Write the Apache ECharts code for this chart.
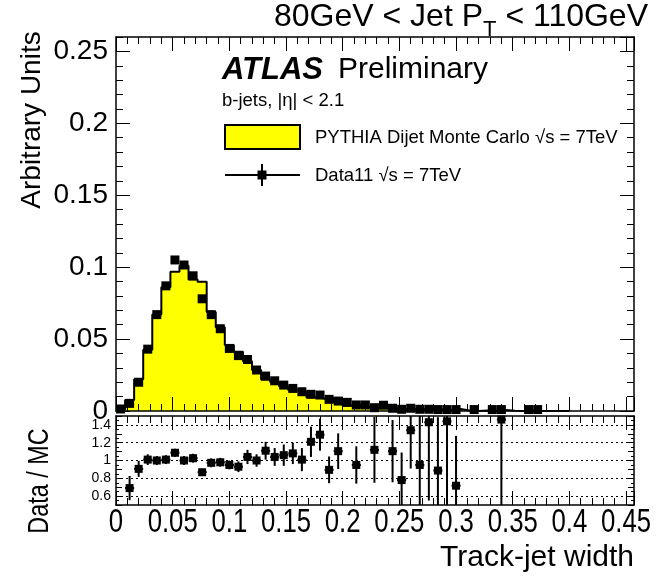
<!DOCTYPE html>
<html>
<head>
<meta charset="utf-8">
<script src="https://cdn.jsdelivr.net/npm/echarts@6/dist/echarts.min.js"></script>
<style>
  html, body { margin: 0; padding: 0; background: #ffffff; }
  #chart { width: 659px; height: 576px; }
</style>
</head>
<body>
<div id="chart"></div>
<script>
// Histogram binning: 50 bins of width 0.008 starting at 0
const binWidth = 0.008;
const binStart = 0;

// PYTHIA dijet MC, normalised, one value per bin
const mcValues = [
  0.0009, 0.0077, 0.0220, 0.0425, 0.0670, 0.0860, 0.0968, 0.1010, 0.0915, 0.0898,
  0.0688, 0.0583, 0.0458, 0.0412, 0.0345, 0.0285, 0.0219, 0.0202, 0.0170, 0.0145,
  0.0133, 0.0096, 0.0086, 0.0090, 0.0062, 0.0038, 0.0044, 0.0026, 0.0021, 0.0022,
  0.0017, 0.0015, 0.0014, 0.0013, 0.0008, 0.0011, 0.0007, 0.0014, 0.0004, 0.0000,
  0.0003, 0.0000, 0.0007, 0.0002, 0.0000, 0.0000, 0.0000, 0.0000, 0.0000, 0.0000
];

// Data11, normalised, one value per bin (null = empty bin)
const dataValues = [
  0.0014, 0.0053, 0.0200, 0.0430, 0.0670, 0.0870, 0.1050, 0.1015, 0.0940, 0.0780,
  0.0670, 0.0572, 0.0435, 0.0385, 0.0358, 0.0285, 0.0243, 0.0210, 0.0180, 0.0157,
  0.0134, 0.0116, 0.0111, 0.0081, 0.0069, 0.0060, 0.0042, 0.0042, 0.0023, 0.0040,
  0.0019, 0.0012, 0.0019, 0.0012, 0.0012, 0.0010, 0.0010, 0.0010, null,   0.0010,
  null,   0.0010, 0.0010, null,   null,   0.0010, 0.0010, null,   null,   null
];

// Data / MC per bin (null = outside the displayed ratio range)
const ratioValues = [
  null, 0.69, 0.906, 1.01, 1.00, 1.01, 1.087, 1.00, 1.026, 0.868,
  0.974, 0.98, 0.95, 0.93, 1.04, 1.00, 1.11, 1.04, 1.06, 1.08,
  1.01, 1.21, 1.29, 0.895, 1.105, null, 0.95, null, 1.12, null,
  1.105, 0.78, 1.34, 0.95, 1.43, 0.887, 1.44, 0.717, null, null,
  null, null, 1.46, null, null, null, null, null, null, null
];

// Statistical uncertainty on the ratio, per bin
const ratioErrors = [
  null, 0.136, 0.09, 0.06, 0.05, 0.05, 0.045, 0.05, 0.05, 0.04,
  0.05, 0.05, 0.05, 0.06, 0.08, 0.07, 0.10, 0.10, 0.12, 0.12,
  0.13, 0.17, 0.18, 0.15, 0.20, null, 0.21, null, 0.37, null,
  0.35, 0.31, 0.43, 0.55, 0.88, 0.60, 1.00, 0.56, null, null,
  null, null, 1.00, null, null, null, null, null, null, null
];

// Axis ranges and labels
const xMin = 0, xMax = 0.457;
const yMainMin = 0, yMainMax = 0.26;
const yRatioMin = 0.5, yRatioMax = 1.5;
const xTickValues = [0, 0.05, 0.1, 0.15, 0.2, 0.25, 0.3, 0.35, 0.4, 0.45];
const xTickLabels = ['0', '0.05', '0.1', '0.15', '0.2', '0.25', '0.3', '0.35', '0.4', '0.45'];
const ratioGridValues = [0.6, 0.8, 1, 1.2, 1.4];

const FONT = '"Liberation Sans", Arial, Helvetica, sans-serif';

// MC histogram outline: step points at bin low edges
const mcStep = [[binStart, 0]];
mcValues.forEach((v, i) => mcStep.push([binStart + i * binWidth, v]));
mcStep.push([binStart + mcValues.length * binWidth, 0]);

const binCenter = i => binStart + (i + 0.5) * binWidth;
const dataPoints = [];
dataValues.forEach((v, i) => { if (v !== null) dataPoints.push([binCenter(i), v]); });
const ratioPoints = [];
ratioValues.forEach((v, i) => {
  if (v !== null) ratioPoints.push([binCenter(i), v, ratioErrors[i]]);
});

// One axis of the frame: either the long-tick (major) or short-tick (minor) set
function axis(gridIndex, position, o) {
  return {
    type: 'value',
    gridIndex: gridIndex,
    position: position,
    min: o.min,
    max: o.max,
    interval: o.interval,
    splitLine: { show: false },
    axisLine: { show: !!o.line, onZero: false, lineStyle: { color: '#000', width: 1.5 } },
    axisTick: { show: true, inside: true, length: o.tick, lineStyle: { color: '#000', width: 1 } },
    axisLabel: o.label ? o.label : { show: false },
    z: 10
  };
}

const xAxes = [];
const yAxes = [];
[0, 1].forEach(g => {
  xAxes.push(axis(g, 'bottom', { min: xMin, max: xMax, interval: 0.05, tick: 14, line: true }));
  xAxes.push(axis(g, 'bottom', { min: xMin, max: xMax, interval: 0.01, tick: 7 }));
  xAxes.push(axis(g, 'top', { min: xMin, max: xMax, interval: 0.05, tick: 14, line: true }));
  xAxes.push(axis(g, 'top', { min: xMin, max: xMax, interval: 0.01, tick: 7 }));
});
// main panel y axes (indices 0..3)
yAxes.push(axis(0, 'left', {
  min: yMainMin, max: yMainMax, interval: 0.05, tick: 14, line: true,
  label: { show: true, showMaxLabel: false, fontFamily: FONT, fontSize: 28, color: '#000', margin: 8 }
}));
yAxes.push(axis(0, 'left', { min: yMainMin, max: yMainMax, interval: 0.01, tick: 7 }));
yAxes.push(axis(0, 'right', { min: yMainMin, max: yMainMax, interval: 0.05, tick: 14, line: true }));
yAxes.push(axis(0, 'right', { min: yMainMin, max: yMainMax, interval: 0.01, tick: 7 }));
// ratio panel y axes (indices 4..7)
yAxes.push(axis(1, 'left', {
  min: yRatioMin, max: yRatioMax, interval: 0.1, tick: 6, line: true,
  label: {
    show: true, fontFamily: FONT, fontSize: 14, color: '#000', margin: 5,
    formatter: v => {
      const hit = ratioGridValues.find(t => Math.abs(t - v) < 1e-6);
      return hit === undefined ? '' : String(hit);
    }
  }
}));
yAxes.push(axis(1, 'left', { min: yRatioMin, max: yRatioMax, interval: 0.05, tick: 3 }));
yAxes.push(axis(1, 'right', { min: yRatioMin, max: yRatioMax, interval: 0.1, tick: 6, line: true }));
yAxes.push(axis(1, 'right', { min: yRatioMin, max: yRatioMax, interval: 0.05, tick: 3 }));

const chart = echarts.init(document.getElementById('chart'), null, { renderer: 'canvas' });

const option = {
  animation: false,
  backgroundColor: '#ffffff',
  grid: [
    { left: 116, top: 37, width: 518, height: 374 },
    { left: 116, top: 416, width: 518, height: 89 }
  ],
  xAxis: xAxes,
  yAxis: yAxes,
  series: [
    {
      name: 'PYTHIA Dijet Monte Carlo',
      type: 'line',
      xAxisIndex: 0, yAxisIndex: 0,
      step: 'end',
      data: mcStep,
      symbol: 'none',
      lineStyle: { color: '#000', width: 2 },
      areaStyle: { color: '#ffff00', opacity: 1 },
      z: 2
    },
    {
      name: 'Data11',
      type: 'scatter',
      xAxisIndex: 0, yAxisIndex: 0,
      data: dataPoints,
      symbol: 'rect',
      symbolSize: 9,
      itemStyle: { color: '#000', opacity: 1 },
      z: 5
    },
    {
      name: 'ratio errors',
      type: 'custom',
      xAxisIndex: 4, yAxisIndex: 4,
      clip: true,
      data: ratioPoints,
      renderItem: (params, api) => {
        const x = api.value(0), r = api.value(1), e = api.value(2);
        const lo = api.coord([x, r - e]);
        const hi = api.coord([x, r + e]);
        const l = api.coord([x - binWidth / 2, r]);
        const rr = api.coord([x + binWidth / 2, r]);
        return {
          type: 'group',
          children: [
            { type: 'line', shape: { x1: lo[0], y1: lo[1], x2: hi[0], y2: hi[1] }, style: { stroke: '#000', lineWidth: 2 } },
            { type: 'line', shape: { x1: l[0], y1: l[1], x2: rr[0], y2: rr[1] }, style: { stroke: '#000', lineWidth: 2 } }
          ]
        };
      },
      z: 4
    },
    {
      name: 'Data / MC',
      type: 'scatter',
      xAxisIndex: 4, yAxisIndex: 4,
      data: ratioPoints.map(p => [p[0], p[1]]),
      symbol: 'rect',
      symbolSize: 8,
      itemStyle: { color: '#000', opacity: 1 },
      markLine: {
        silent: true,
        symbol: 'none',
        label: { show: false },
        lineStyle: { color: '#000', type: [2, 3], width: 1 },
        data: ratioGridValues.map(v => ({ yAxis: v }))
      },
      z: 5
    }
  ]
};
chart.setOption(option);

// Text measurement for the header with a subscript
const ctx = document.createElement('canvas').getContext('2d');
function textWidth(str, size) {
  ctx.font = size + 'px ' + FONT;
  return ctx.measureText(str).width;
}

const g = [];

// Header: "80GeV < Jet P_T < 110GeV", drawn in three pieces so that T sits as a subscript
const headSize = 32, subSize = 22;
const headA = '80GeV < Jet P', headSub = 'T', headB = ' < 110GeV';
const wA = textWidth(headA, headSize), wS = textWidth(headSub, subSize), wB = textWidth(headB, headSize);
const headRight = 648, headBase = 33;
const headLeft = headRight - (wA + wS + wB);
g.push({ type: 'text', x: headLeft, y: headBase, style: { text: headA, font: headSize + 'px ' + FONT, fill: '#000', textAlign: 'left', textVerticalAlign: 'bottom' } });
g.push({ type: 'text', x: headLeft + wA, y: headBase + 8, style: { text: headSub, font: subSize + 'px ' + FONT, fill: '#000', textAlign: 'left', textVerticalAlign: 'bottom' } });
g.push({ type: 'text', x: headLeft + wA + wS, y: headBase, style: { text: headB, font: headSize + 'px ' + FONT, fill: '#000', textAlign: 'left', textVerticalAlign: 'bottom' } });

// Axis titles
g.push({ type: 'text', x: 32, y: 120, rotation: Math.PI / 2,
  style: { text: 'Arbitrary Units', font: '28px ' + FONT, fill: '#000', textAlign: 'center', textVerticalAlign: 'middle' } });
g.push({ type: 'text', x: 40, y: 481, rotation: Math.PI / 2, scaleX: 0.78,
  style: { text: 'Data / MC', font: '30px ' + FONT, fill: '#000', textAlign: 'center', textVerticalAlign: 'middle' } });
g.push({ type: 'text', x: 634, y: 558,
  style: { text: 'Track-jet width', font: '30px ' + FONT, fill: '#000', textAlign: 'right', textVerticalAlign: 'middle' } });

// ATLAS label and selection text
g.push({ type: 'text', x: 222, y: 70,
  style: { text: 'ATLAS', font: 'italic bold 31px ' + FONT, fill: '#000', textAlign: 'left', textVerticalAlign: 'middle' } });
g.push({ type: 'text', x: 338, y: 70,
  style: { text: 'Preliminary', font: '30px ' + FONT, fill: '#000', textAlign: 'left', textVerticalAlign: 'middle' } });
g.push({ type: 'text', x: 222, y: 101,
  style: { text: 'b-jets, |η| < 2.1', font: '18.5px ' + FONT, fill: '#000', textAlign: 'left', textVerticalAlign: 'middle' } });

// Legend
g.push({ type: 'rect', shape: { x: 225, y: 125, width: 75, height: 24 }, style: { fill: '#ffff00', stroke: '#000', lineWidth: 2 } });
g.push({ type: 'text', x: 315, y: 138,
  style: { text: 'PYTHIA Dijet Monte Carlo √s = 7TeV', font: '18.5px ' + FONT, fill: '#000', textAlign: 'left', textVerticalAlign: 'middle' } });
g.push({ type: 'line', shape: { x1: 225, y1: 175, x2: 300, y2: 175 }, style: { stroke: '#000', lineWidth: 2 } });
g.push({ type: 'line', shape: { x1: 262, y1: 164, x2: 262, y2: 186 }, style: { stroke: '#000', lineWidth: 2 } });
g.push({ type: 'rect', shape: { x: 257.5, y: 170.5, width: 9, height: 9 }, style: { fill: '#000' } });
g.push({ type: 'text', x: 315, y: 176,
  style: { text: 'Data11 √s = 7TeV', font: '18.5px ' + FONT, fill: '#000', textAlign: 'left', textVerticalAlign: 'middle' } });

// Ratio-panel x tick labels (condensed), placed through the axis scale
xTickValues.forEach((v, i) => {
  const px = chart.convertToPixel({ xAxisIndex: 4 }, v);
  g.push({ type: 'text', x: px, y: 523, scaleX: 0.78,
    style: { text: xTickLabels[i], font: '33px ' + FONT, fill: '#000', textAlign: 'center', textVerticalAlign: 'middle' } });
});

chart.setOption({ graphic: g });
</script>
</body>
</html>
